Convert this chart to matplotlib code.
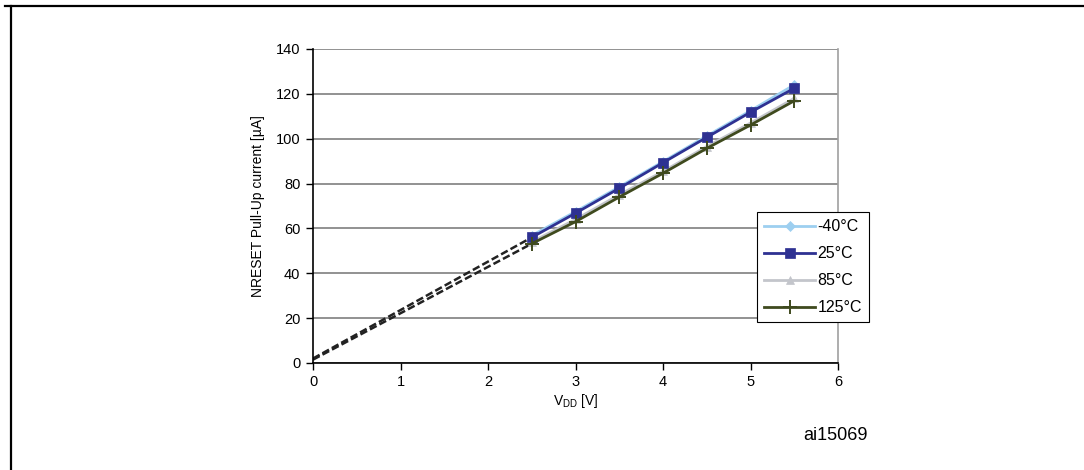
import numpy as np
import matplotlib
matplotlib.use("Agg")
import matplotlib.pyplot as plt
from matplotlib.lines import Line2D

plt.rcParams['font.family'] = ['Liberation Sans', 'DejaVu Sans']
plt.rcParams['mathtext.fontset'] = 'custom'
plt.rcParams['mathtext.rm'] = 'Liberation Sans'

# Supply voltage points [V]
vdd = [2.5, 3.0, 3.5, 4.0, 4.5, 5.0, 5.5]

# NRESET pull-up current [uA] per temperature
i_m40 = [56.8, 67.5, 78.5, 89.8, 101.2, 112.5, 124.0]
i_25 = [56.0, 66.8, 77.9, 89.3, 100.6, 111.8, 122.5]
i_85 = [54.0, 64.0, 75.0, 85.4, 96.5, 107.0, 118.0]
i_125 = [53.2, 63.0, 74.0, 84.6, 95.7, 106.1, 116.9]

labels = ['-40°C', '25°C', '85°C', '125°C']
colors = ['#9DCFF0', '#2E3192', '#C3C5CB', '#3F4A1E']
markers = ['D', 's', '^', '+']
msizes = [5, 7, 6, 10]

# extrapolation to the origin (dashed)
ext_x = [0.0, 2.5]
ext_start = [2.0, 2.0, 1.5, 1.5]

fig = plt.figure(figsize=(10.84, 4.70), dpi=100)
ax = fig.add_axes([313 / 1084, 107 / 470, 525 / 1084, 314 / 470])

series = [i_m40, i_25, i_85, i_125]
for k in [1, 3]:
    ax.plot(ext_x, [ext_start[k], series[k][0]], color='#222222', lw=1.8,
            linestyle=(0, (3, 1.3)), zorder=2)

for k in range(4):
    ax.plot(vdd, series[k], color=colors[k], lw=2.0, marker=markers[k],
            markersize=msizes[k], markeredgewidth=1.4 if markers[k] == '+' else 0.5,
            markeredgecolor=colors[k], label=labels[k], zorder=3 + k % 2)

ax.set_xlim(0, 6)
ax.set_ylim(0, 140)
ax.set_xticks(range(0, 7))
ax.set_yticks(range(0, 141, 20))
ax.yaxis.grid(True, color='#7f7f7f', lw=1.2)
ax.set_axisbelow(True)
ax.tick_params(direction='out', length=5, width=1, labelsize=10.5, colors='black', pad=4)
ax.spines['top'].set_visible(False)
ax.spines['right'].set_color('#a0a0a0')
ax.spines['right'].set_linewidth(1.2)
ax.spines['left'].set_linewidth(1.2)
ax.spines['bottom'].set_linewidth(1.2)

ax.set_xlabel(r'V$_\mathregular{DD}$ [V]', fontsize=10, labelpad=2)
ax.set_ylabel('NRESET Pull-Up current [µA]', fontsize=10, labelpad=8)

leg = ax.legend(loc='upper left', bbox_to_anchor=(757 / 1084, 258 / 470),
                bbox_transform=fig.transFigure, fontsize=11.5, frameon=True,
                fancybox=False, framealpha=1, edgecolor='black',
                handlelength=3.2, handletextpad=0.15, labelspacing=0.75,
                borderpad=0.45, borderaxespad=0)
leg.get_frame().set_linewidth(0.8)

fig.text(868 / 1084, 1 - 436 / 470, 'ai15069', fontsize=13, ha='right', va='center')

# cut-off figure caption (only descenders visible) and outer frame
fig.text(3 / 1084, 1 + 6 / 470,
         r'Figure 37. Typical NRESET pull-up current I$_\mathregular{pu}$ vs. V$_\mathregular{DD}$ @ 4 temperatures',
         fontsize=10, fontweight='bold', ha='left', va='baseline')
fig.add_artist(Line2D([5 / 1084, 1], [1 - 6 / 470, 1 - 6 / 470], color='black', lw=1.6))
fig.add_artist(Line2D([10.5 / 1084, 10.5 / 1084], [0, 1 - 6 / 470], color='black', lw=1.6))

fig.savefig('out.png', dpi=100)
